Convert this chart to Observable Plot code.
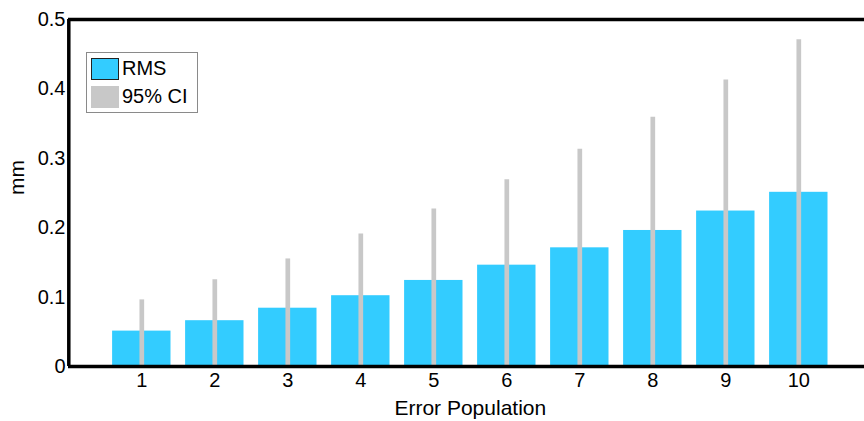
<!DOCTYPE html>
<html>
<head>
<meta charset="utf-8">
<script src="https://cdn.jsdelivr.net/npm/d3@7"></script>
<script src="https://cdn.jsdelivr.net/npm/@observablehq/plot@0.6"></script>
<style>
  html, body { margin: 0; padding: 0; background: #fff; }
  #wrap { position: relative; width: 864px; height: 421px; overflow: hidden; font-family: "Liberation Sans", Arial, sans-serif; }
  #legend { position: absolute; left: 86px; top: 52px; width: 112px; height: 61px; border: 1px solid #8a8a8a; background: #fff; box-sizing: border-box; }
  .item { position: absolute; left: 4px; height: 23px; display: flex; align-items: center; }
  .sw { width: 28px; height: 22px; box-sizing: border-box; margin-right: 3px; }
  .lab { font-size: 20px; color: #000; }
</style>
</head>
<body>
<div id="wrap"></div>
<script>
const populations = [1, 2, 3, 4, 5, 6, 7, 8, 9, 10];
const rms = [0.051, 0.066, 0.084, 0.102, 0.124, 0.146, 0.171, 0.196, 0.224, 0.251];
const ci95 = [0.096, 0.125, 0.155, 0.191, 0.227, 0.269, 0.313, 0.359, 0.413, 0.471];
const yTicks = [0, 0.1, 0.2, 0.3, 0.4, 0.5];
const seriesNames = ["RMS", "95% CI"];
const seriesColors = ["#33CCFF", "#C8C8C8"];

const data = populations.map((p, i) => ({pop: p, rms: rms[i], ci: ci95[i]}));
const halfWidth = 0.4;

const chart = Plot.plot({
  width: 864,
  height: 421,
  marginLeft: 68,
  marginRight: 0,
  marginTop: 19,
  marginBottom: 55,
  style: {fontFamily: "'Liberation Sans', Arial, sans-serif", fontSize: "20px", background: "#fff", color: "#000"},
  x: {domain: [0, 11], range: [68.3, 871.3]},
  y: {domain: [0, 0.5], range: [366, 19]},
  marks: [
    Plot.rectY(data, {x1: d => d.pop - halfWidth, x2: d => d.pop + halfWidth, y1: 0, y2: "rms", fill: seriesColors[0]}),
    Plot.ruleX(data, {x: "pop", y1: 0, y2: "ci", stroke: seriesColors[1], strokeWidth: 4.7}),
    Plot.ruleY([0, 0.5], {stroke: "#000", strokeWidth: 3.5}),
    Plot.ruleX([0], {stroke: "#000", strokeWidth: 3.5}),
    Plot.axisY({ticks: yTicks, tickSize: 0, tickPadding: 3, fontSize: 20, label: null, tickFormat: d3.format("")}),
    Plot.axisX({ticks: populations, tickSize: 0, tickPadding: 6, fontSize: 20, label: null}),
    Plot.text(["Error Population"], {frameAnchor: "bottom", dy: 42, fontSize: 21, text: d => d, x: 5.5, lineAnchor: "middle"}),
    Plot.text(["mm"], {frameAnchor: "left", dx: -51, dy: 2, rotate: -90, fontSize: 21, text: d => d})
  ]
});
const wrap = document.getElementById("wrap");
wrap.appendChild(chart);

const legend = document.createElement("div");
legend.id = "legend";
seriesNames.forEach((name, i) => {
  const item = document.createElement("div");
  item.className = "item";
  item.style.top = (i === 0 ? 4 : 32) + "px";
  const sw = document.createElement("div");
  sw.className = "sw";
  sw.style.background = seriesColors[i];
  sw.style.border = i === 0 ? "1px solid #222" : "none";
  const lab = document.createElement("span");
  lab.className = "lab";
  lab.textContent = name;
  item.appendChild(sw);
  item.appendChild(lab);
  legend.appendChild(item);
});
wrap.appendChild(legend);
</script>
</body>
</html>
